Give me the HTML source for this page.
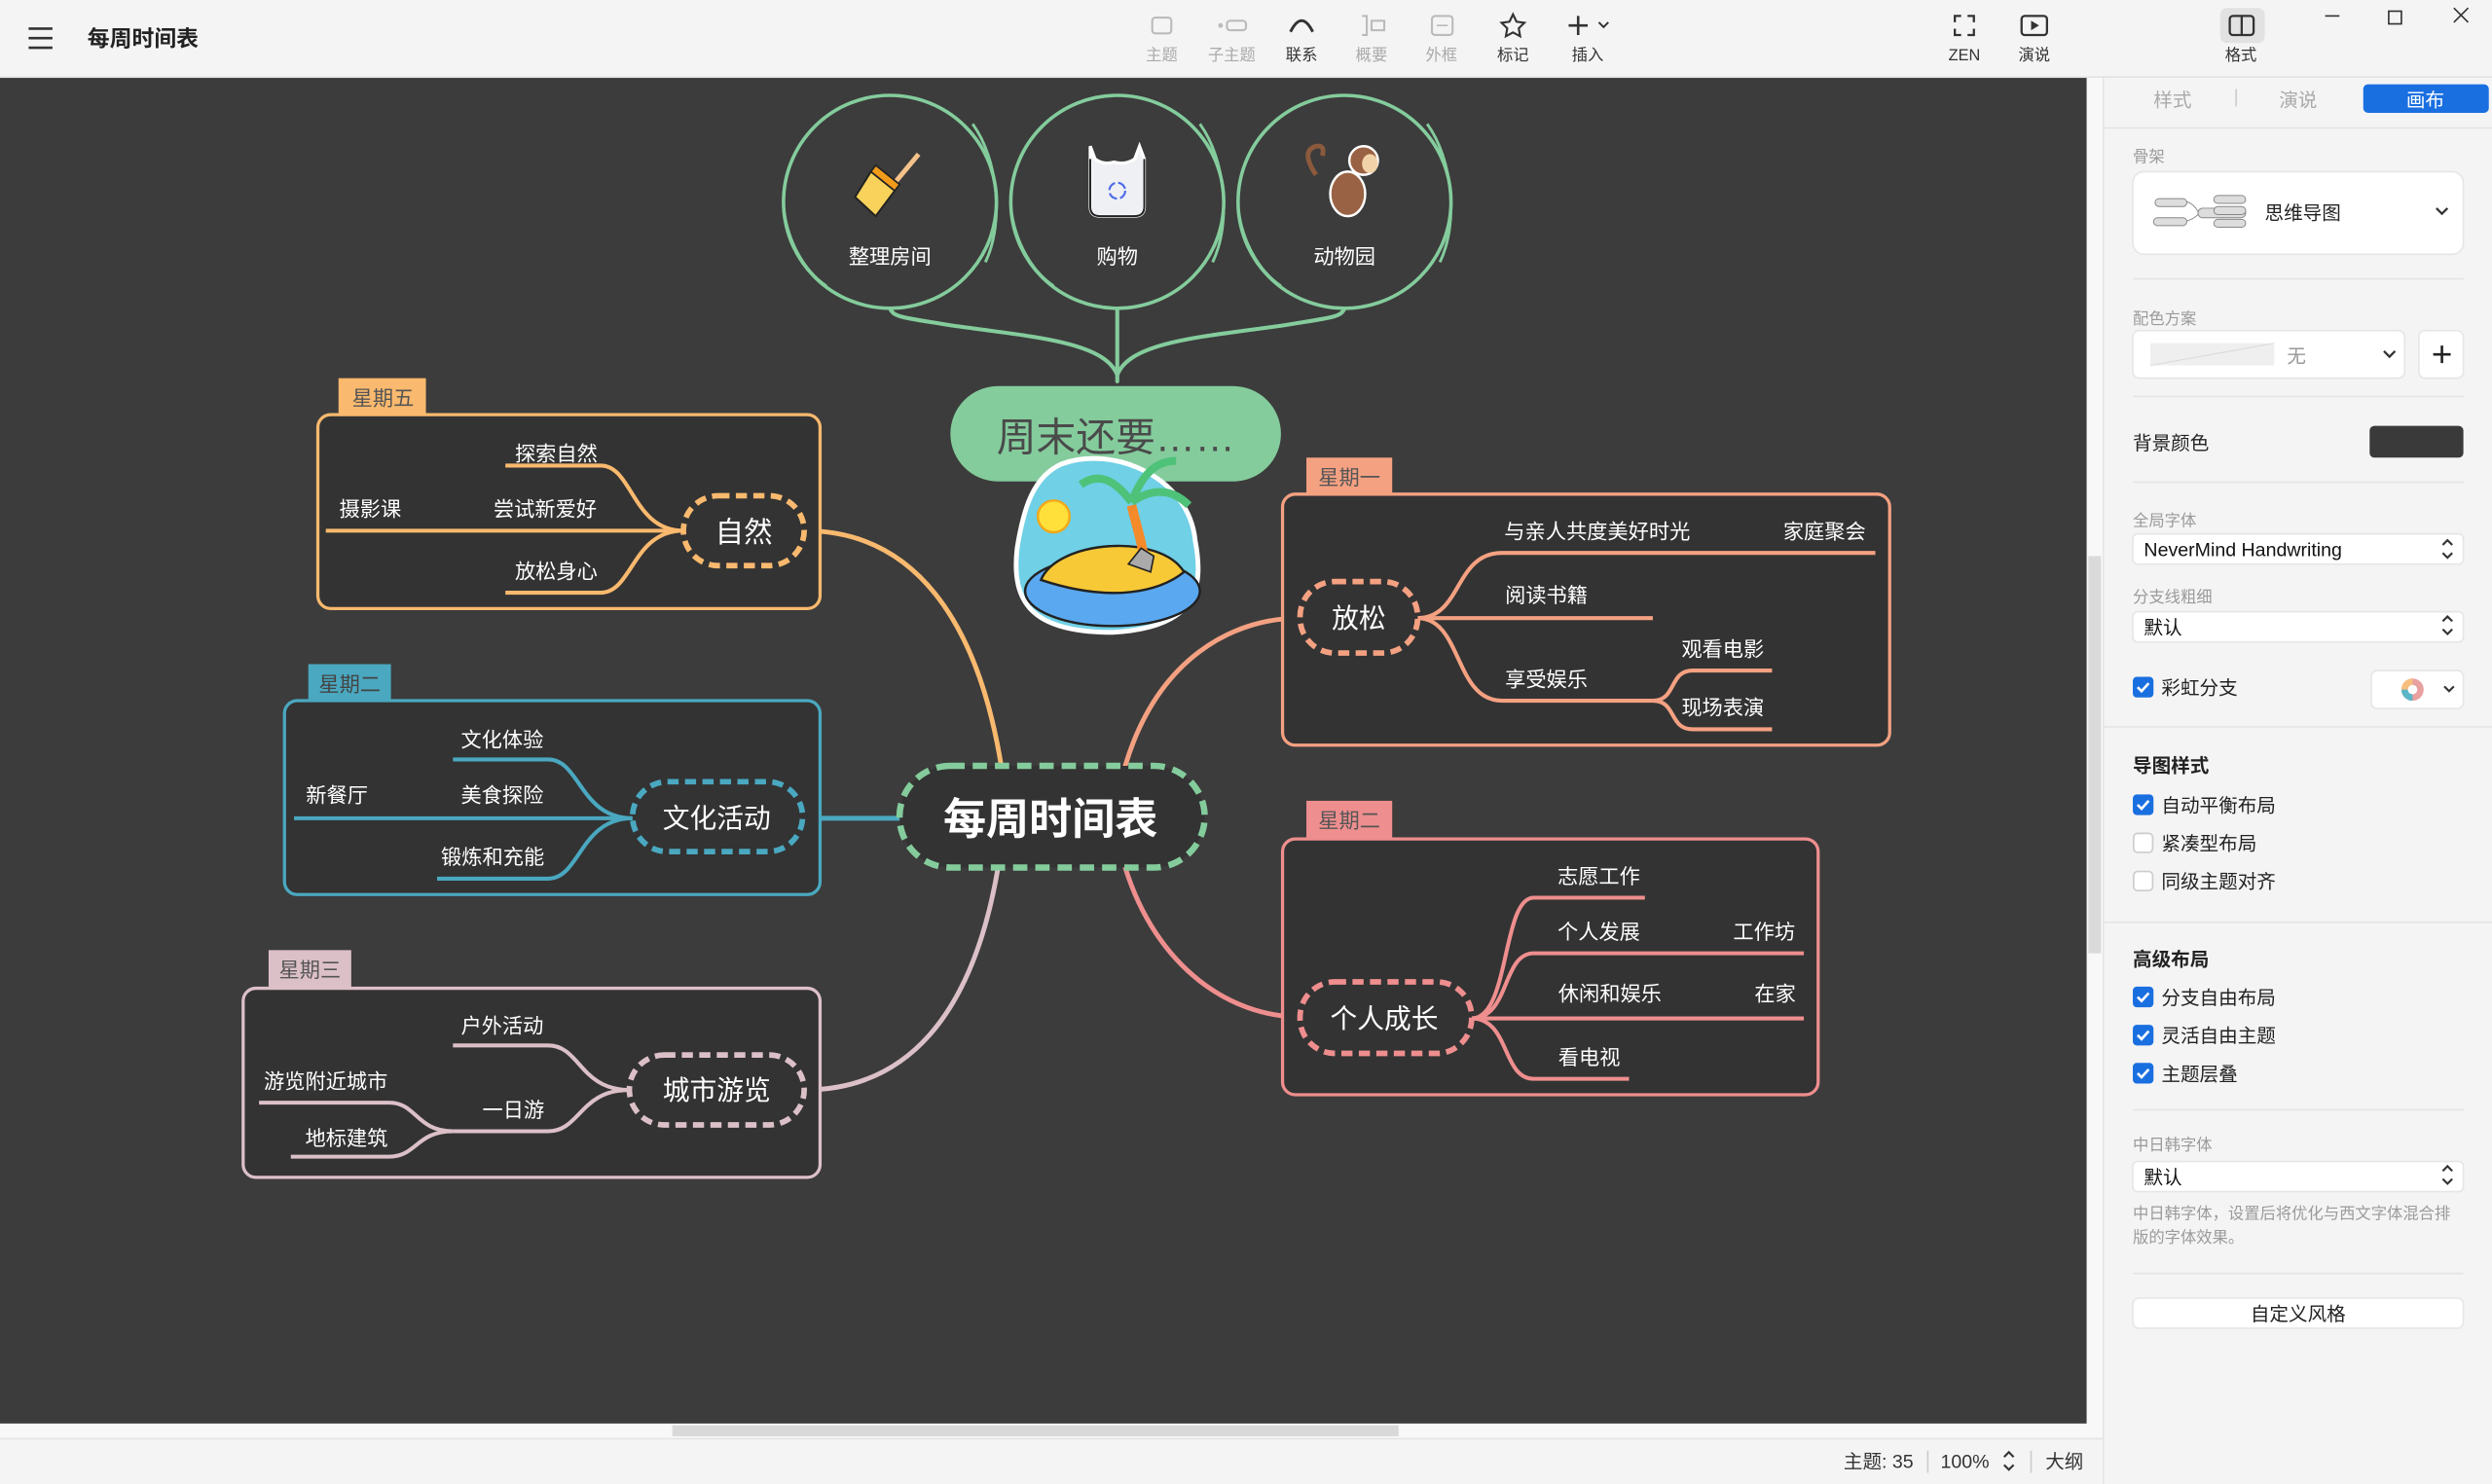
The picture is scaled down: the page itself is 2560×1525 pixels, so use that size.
<!DOCTYPE html>
<html><head><meta charset="utf-8"><style>
html,body{margin:0;padding:0;background:#f4f4f4;}
svg{display:block;}
text{font-family:"Liberation Sans","Noto Sans CJK SC",sans-serif;}
</style></head><body>
<svg width="2560" height="1525" viewBox="0 0 1568 934" xmlns="http://www.w3.org/2000/svg">
<rect x="0" y="0" width="1568" height="48" fill="#f4f4f4"/>
<line x1="0" y1="48.5" x2="1568" y2="48.5" stroke="#e2e2e2"/>
<g stroke="#333" stroke-width="1.6"><line x1="18" y1="18" x2="33" y2="18"/><line x1="18" y1="24" x2="33" y2="24"/><line x1="18" y1="30" x2="33" y2="30"/></g>
<text x="55" y="29" font-size="14" font-weight="bold" fill="#222">每周时间表</text>
<g font-size="10" text-anchor="middle">
<rect x="725" y="11" width="12" height="10" rx="2" fill="none" stroke="#bbb" stroke-width="1.3"/>
<text x="731" y="38" fill="#aaa">主题</text>
<rect x="772" y="13" width="12" height="6" rx="2" fill="none" stroke="#bbb" stroke-width="1.3"/><circle cx="768" cy="16" r="1.5" fill="#bbb"/>
<text x="775" y="38" fill="#aaa">子主题</text>
<path d="M812 20 Q819 6 826 20" fill="none" stroke="#333" stroke-width="1.8"/>
<text x="819" y="38" fill="#333">联系</text>
<path d="M857 10 h3 v12 h-3 M863 13 h8 v6 h-8z" fill="none" stroke="#bbb" stroke-width="1.3"/>
<text x="863" y="38" fill="#aaa">概要</text>
<rect x="901" y="10" width="13" height="12" rx="2" fill="none" stroke="#bbb" stroke-width="1.3"/><line x1="904" y1="16" x2="911" y2="16" stroke="#bbb"/>
<text x="907" y="38" fill="#aaa">外框</text>
<path d="M952 9 l2.2 4.6 5 .7 -3.6 3.5 .9 5 -4.5-2.4 -4.5 2.4 .9-5 -3.6-3.5 5-.7z" fill="none" stroke="#333" stroke-width="1.3"/>
<text x="952" y="38" fill="#333">标记</text>
<path d="M987 16 h12 M993 10 v12" stroke="#333" stroke-width="1.6"/><path d="M1006 14 l3 3 3-3" fill="none" stroke="#333" stroke-width="1.2"/>
<text x="999" y="38" fill="#333">插入</text>
<path d="M1230 14 v-4 h4 M1238 10 h4 v4 M1242 18 v4 h-4 M1234 22 h-4 v-4" fill="none" stroke="#333" stroke-width="1.4"/>
<text x="1236" y="38" fill="#333">ZEN</text>
<rect x="1272" y="10" width="16" height="12" rx="2" fill="none" stroke="#333" stroke-width="1.4"/><path d="M1278 13 l5 3 -5 3z" fill="#333"/>
<text x="1280" y="38" fill="#333">演说</text>
<rect x="1397" y="5" width="28" height="22" rx="4" fill="#e2e2e2"/>
<rect x="1403" y="10" width="15" height="12" rx="2" fill="none" stroke="#333" stroke-width="1.4"/><line x1="1410.5" y1="10" x2="1410.5" y2="22" stroke="#333" stroke-width="1.4"/>
<text x="1410" y="38" fill="#333">格式</text>
</g>
<g stroke="#333" stroke-width="1" fill="none"><line x1="1463" y1="10" x2="1472" y2="10"/><rect x="1503" y="7" width="8" height="8"/><path d="M1544 5 l9 9 M1553 5 l-9 9"/></g>

<rect x="0" y="49" width="1313" height="847" fill="#3c3c3c"/>
<rect x="1313" y="49" width="10" height="856" fill="#f8f8f8"/>
<rect x="1314" y="350" width="8" height="250" fill="#dadada"/>
<rect x="0" y="896" width="1313" height="9" fill="#f8f8f8"/>
<rect x="423" y="897" width="457" height="7" fill="#d9d9d9"/>
<line x1="0" y1="905.5" x2="1323" y2="905.5" stroke="#e4e4e4"/>
<line x1="1323.5" y1="49" x2="1323.5" y2="934" stroke="#e4e4e4"/>
<g font-size="12" fill="#333">
<text x="1160" y="924">主题: 35</text>
<line x1="1213" y1="913" x2="1213" y2="927" stroke="#ccc"/>
<text x="1221" y="924">100%</text>
<path d="M1261 917 l3-3 3 3 M1261 922 l3 3 3-3" fill="none" stroke="#333" stroke-width="1.3"/>
<line x1="1278" y1="913" x2="1278" y2="927" stroke="#ccc"/>
<text x="1287" y="924">大纲</text>
</g>

<rect x="1324" y="49" width="244" height="885" fill="#f4f4f4"/>
<g font-size="12" text-anchor="middle">
<text x="1367" y="67" fill="#aaa">样式</text>
<line x1="1407" y1="56" x2="1407" y2="67" stroke="#ccc"/>
<text x="1446" y="67" fill="#aaa">演说</text>
<rect x="1487" y="53" width="79" height="18" rx="3" fill="#1a6fe0"/>
<text x="1526" y="67" fill="#fff">画布</text>
</g>
<line x1="1324" y1="80.5" x2="1568" y2="80.5" stroke="#e4e4e4"/>
<g font-size="10" fill="#9a9a9a">
<text x="1342" y="102">骨架</text>
<text x="1342" y="204">配色方案</text>
<text x="1342" y="331">全局字体</text>
<text x="1342" y="379">分支线粗细</text>
<text x="1342" y="724">中日韩字体</text>
<text x="1342" y="767">中日韩字体，设置后将优化与西文字体混合排</text>
<text x="1342" y="782">版的字体效果。</text>
</g>
<rect x="1342" y="108" width="208" height="52" rx="7" fill="#fff" stroke="#e6e6e6"/>
<g fill="#ddd" stroke="#888" stroke-width="0.6"><rect x="1356" y="125" width="20" height="5" rx="2.5"/><rect x="1355" y="137" width="21" height="5" rx="2.5"/><rect x="1383" y="131" width="30" height="6" rx="3"/><rect x="1393" y="123" width="20" height="5" rx="2.5"/><rect x="1393" y="130" width="20" height="5" rx="2.5"/><rect x="1393" y="138" width="20" height="5" rx="2.5"/></g>
<path d="M1376 127 Q1380 128 1383 133 M1376 139 Q1380 138 1383 135" fill="none" stroke="#888" stroke-width="0.6"/>
<text x="1425" y="138" font-size="12" fill="#222">思维导图</text>
<path d="M1533 131 l3.5 3.5 3.5-3.5" fill="none" stroke="#333" stroke-width="1.4"/>
<line x1="1342" y1="175.5" x2="1550" y2="175.5" stroke="#e4e4e4"/>
<rect x="1342" y="208" width="171" height="30" rx="4" fill="#fff" stroke="#e6e6e6"/>
<rect x="1353" y="216" width="78" height="14" fill="#efefef"/><line x1="1353" y1="230" x2="1431" y2="216" stroke="#d8d8d8" stroke-width="0.6"/>
<text x="1439" y="228" font-size="12" fill="#999">无</text>
<path d="M1500 221 l3.5 3.5 3.5-3.5" fill="none" stroke="#333" stroke-width="1.4"/>
<rect x="1522" y="208" width="28" height="30" rx="4" fill="#fff" stroke="#e6e6e6"/>
<path d="M1531 223 h11 M1536.5 217.5 v11" stroke="#222" stroke-width="1.6"/>
<line x1="1342" y1="249.5" x2="1550" y2="249.5" stroke="#e4e4e4"/>
<text x="1342" y="283" font-size="12" fill="#222">背景颜色</text>
<rect x="1491" y="268" width="59" height="20" rx="3" fill="#3a3a3a"/>
<line x1="1342" y1="303.5" x2="1550" y2="303.5" stroke="#e4e4e4"/>
<rect x="1342" y="336" width="208" height="19" rx="3" fill="#fff" stroke="#e6e6e6"/>
<text x="1349" y="350" font-size="12" fill="#111">NeverMind Handwriting</text>
<path d="M1537 343 l3-3 3 3 M1537 348 l3 3 3-3" fill="none" stroke="#333" stroke-width="1.3"/>
<rect x="1342" y="385" width="208" height="19" rx="3" fill="#fff" stroke="#e6e6e6"/>
<text x="1349" y="399" font-size="12" fill="#111">默认</text>
<path d="M1537 391 l3-3 3 3 M1537 396 l3 3 3-3" fill="none" stroke="#333" stroke-width="1.3"/>
<rect x="1342" y="426" width="13" height="13" rx="2.5" fill="#1a6fe0"/><path d="M1345 432.5 l2.5 2.5 4.5-5" fill="none" stroke="#fff" stroke-width="1.6"/>
<text x="1360" y="437" font-size="12" fill="#222">彩虹分支</text>
<rect x="1492" y="422" width="58" height="24" rx="4" fill="#fff" stroke="#e6e6e6"/>
<circle cx="1518" cy="434" r="5" fill="none" stroke="#e9a0a0" stroke-width="4"/>
<path d="M1513 434 a5 5 0 0 0 5 5" fill="none" stroke="#5bb6c8" stroke-width="4"/>
<path d="M1518 429 a5 5 0 0 0 -5 5" fill="none" stroke="#f7bf7e" stroke-width="4"/>
<path d="M1538 432 l3 3 3-3" fill="none" stroke="#333" stroke-width="1.3"/>
<line x1="1324" y1="457.5" x2="1568" y2="457.5" stroke="#e4e4e4"/>
<text x="1342" y="486" font-size="12" font-weight="bold" fill="#222">导图样式</text>
<text x="1342" y="608" font-size="12" font-weight="bold" fill="#222">高级布局</text>
<g font-size="12" fill="#222">
<rect x="1342" y="500" width="13" height="13" rx="2.5" fill="#1a6fe0"/><path d="M1345 506.5 l2.5 2.5 4.5-5" fill="none" stroke="#fff" stroke-width="1.6"/><text x="1360" y="511">自动平衡布局</text>
<rect x="1342.5" y="524.5" width="12" height="12" rx="2.5" fill="#fff" stroke="#ccc"/><text x="1360" y="535">紧凑型布局</text>
<rect x="1342.5" y="548.5" width="12" height="12" rx="2.5" fill="#fff" stroke="#ccc"/><text x="1360" y="559">同级主题对齐</text>
<rect x="1342" y="621" width="13" height="13" rx="2.5" fill="#1a6fe0"/><path d="M1345 627.5 l2.5 2.5 4.5-5" fill="none" stroke="#fff" stroke-width="1.6"/><text x="1360" y="632">分支自由布局</text>
<rect x="1342" y="645" width="13" height="13" rx="2.5" fill="#1a6fe0"/><path d="M1345 651.5 l2.5 2.5 4.5-5" fill="none" stroke="#fff" stroke-width="1.6"/><text x="1360" y="656">灵活自由主题</text>
<rect x="1342" y="669" width="13" height="13" rx="2.5" fill="#1a6fe0"/><path d="M1345 675.5 l2.5 2.5 4.5-5" fill="none" stroke="#fff" stroke-width="1.6"/><text x="1360" y="680">主题层叠</text>
</g>
<line x1="1324" y1="580.5" x2="1568" y2="580.5" stroke="#e4e4e4"/>
<line x1="1342" y1="698.5" x2="1550" y2="698.5" stroke="#e4e4e4"/>
<rect x="1342" y="731" width="208" height="19" rx="3" fill="#fff" stroke="#e6e6e6"/>
<text x="1349" y="745" font-size="12" fill="#111">默认</text>
<path d="M1537 737 l3-3 3 3 M1537 742 l3 3 3-3" fill="none" stroke="#333" stroke-width="1.3"/>
<line x1="1342" y1="801.5" x2="1550" y2="801.5" stroke="#e4e4e4"/>
<rect x="1342" y="817" width="208" height="19" rx="4" fill="#fff" stroke="#e6e6e6"/>
<text x="1446" y="831" font-size="12" fill="#222" text-anchor="middle">自定义风格</text>

<g fill="none" stroke-linecap="round">
<path d="M630 482 C615 390 575 334 506 334" stroke="#f9b96e" stroke-width="3"/>
<path d="M566 515 L506 515" stroke="#4aa8c0" stroke-width="3"/>
<path d="M628 546 C612 640 570 686 506 686" stroke="#dcc0c8" stroke-width="3"/>
<path d="M708 482 C728 415 775 389 818 389" stroke="#f4a182" stroke-width="3"/>
<path d="M708 546 C728 610 775 640 818 640" stroke="#ef8e8e" stroke-width="3"/>
<path d="M703 240 L703 195" stroke="#84cc9c" stroke-width="2.5"/>
<path d="M703 236 C695 215 650 212 600 205 C570 200 562 200 560 194" stroke="#84cc9c" stroke-width="2.5"/>
<path d="M703 236 C711 215 756 212 806 205 C836 200 844 200 846 194" stroke="#84cc9c" stroke-width="2.5"/>
</g>
<g fill="#3c3c3c" stroke="#84cc9c" stroke-width="2.2">
<ellipse cx="560" cy="127" rx="67" ry="67"/>
<ellipse cx="703" cy="127" rx="67" ry="67"/>
<ellipse cx="846" cy="127" rx="67" ry="67"/>
</g>
<g fill="none" stroke="#84cc9c" stroke-width="1.8">
<path d="M612 78 C628 100 632 140 620 165"/><path d="M493 130 C495 150 505 170 520 180"/>
<path d="M755 78 C771 100 775 140 763 165"/><path d="M636 130 C638 150 648 170 663 180"/>
<path d="M898 78 C914 100 918 140 906 165"/><path d="M779 130 C781 150 791 170 806 180"/>
</g>
<g font-size="13" fill="#fff" text-anchor="middle">
<text x="560" y="166">整理房间</text><text x="703" y="166">购物</text><text x="846" y="166">动物园</text>
</g>
<g stroke="#fff" stroke-width="1">
<line x1="563" y1="115" x2="578" y2="97" stroke="#f4c28a" stroke-width="3"/>
<path d="M548 108 l15 12 -12 16 -13-12z" fill="#f8d25a" stroke="#222" stroke-width="1.2"/>
<path d="M548 108 l15 12 3-4 -15-12z" fill="#f29b1a" stroke="#222" stroke-width="1"/>
</g>
<path d="M686 100 v30 q0 6 6 6 h22 q6 0 6-6 v-30 l-3 -8 -3 8 q-6 4-13 2 q-7 2-12-2 l-3-8z" fill="#eef0f4" stroke="#fff" stroke-width="2"/>
<path d="M686 100 v30 q0 6 6 6 h22 q6 0 6-6 v-30" fill="none" stroke="#222" stroke-width="1.2"/>
<circle cx="703" cy="120" r="5" fill="none" stroke="#4d6be8" stroke-width="1.3" stroke-dasharray="6 2"/>
<g>
<path d="M828 110 q-10-15 0-18 q6-1 4 6" fill="none" stroke="#8b5a3c" stroke-width="3"/>
<ellipse cx="848" cy="122" rx="11" ry="14" fill="#9a6244" stroke="#fff" stroke-width="1.5"/>
<circle cx="858" cy="101" r="9" fill="#9a6244" stroke="#fff" stroke-width="1.5"/>
<ellipse cx="862" cy="103" rx="5" ry="6" fill="#f2d2a8"/>
</g>
<rect x="598" y="243" width="208" height="60" rx="30" fill="#84cc9c"/>
<text x="702" y="284" font-size="25" fill="#4a4a4a" text-anchor="middle">周末还要……</text>
<g>
<path d="M668 292 C700 280 748 300 752 340 C758 372 752 395 700 398 C650 398 636 380 640 345 C644 320 650 300 668 292z" fill="#6fd0e6" stroke="#fff" stroke-width="3"/>
<ellipse cx="700" cy="372" rx="55" ry="22" fill="#5aa8f0" stroke="#222" stroke-width="1.5"/>
<path d="M655 365 C665 340 730 335 745 360 C730 372 700 380 655 365z" fill="#f8c936" stroke="#222" stroke-width="1.5"/>
<path d="M712 318 C716 335 720 345 720 358" stroke="#f48a2a" stroke-width="6" fill="none"/>
<path d="M712 316 C700 300 690 298 680 305 M712 316 C720 295 730 290 740 290 M712 316 C728 305 740 310 748 318" stroke="#4fc27a" stroke-width="5" fill="none"/>
<circle cx="663" cy="325" r="10" fill="#ffe03a" stroke="#f2a81a" stroke-width="1.5"/>
<path d="M710 355 l8-10 8 5 -2 10z" fill="#aaa" stroke="#222"/>
</g>
<rect x="566" y="482" width="192" height="64" rx="32" fill="#333" stroke="#84cc9c" stroke-width="4" stroke-dasharray="9 5"/>
<text x="661" y="525" font-size="27" font-weight="bold" fill="#fff" text-anchor="middle">每周时间表</text>

<rect x="213" y="238" width="55" height="24" fill="#f9b96e"/>
<text x="241" y="255" font-size="13" fill="#555" text-anchor="middle">星期五</text>
<rect x="200" y="261" width="316" height="122" rx="8" fill="#333" stroke="#f9b96e" stroke-width="2"/>
<g fill="none" stroke="#f9b96e" stroke-width="2.5">
<path d="M318 293 H378 C398 293 398 334 430 334"/>
<path d="M205 334 H430"/>
<path d="M318 373 H378 C398 373 398 334 430 334"/>
</g>
<rect x="430" y="312" width="76" height="44" rx="22" fill="#333" stroke="#f9b96e" stroke-width="3.5" stroke-dasharray="7 4"/>
<text x="468" y="341" font-size="18" fill="#fff" text-anchor="middle">自然</text>
<g font-size="13" fill="#fff" text-anchor="middle">
<text x="350" y="290">探索自然</text><text x="343" y="325">尝试新爱好</text><text x="233" y="325">摄影课</text><text x="350" y="364">放松身心</text>
</g>
<rect x="194" y="418" width="52" height="24" fill="#4aa8c0"/>
<text x="220" y="435" font-size="13" fill="#444" text-anchor="middle">星期二</text>
<rect x="179" y="441" width="337" height="122" rx="8" fill="#333" stroke="#4aa8c0" stroke-width="2"/>
<g fill="none" stroke="#4aa8c0" stroke-width="2.5">
<path d="M285 478 H345 C365 478 365 515 398 515"/>
<path d="M185 515 H398"/>
<path d="M275 553 H345 C365 553 365 515 398 515"/>
</g>
<rect x="398" y="492" width="107" height="44" rx="22" fill="#333" stroke="#4aa8c0" stroke-width="3.5" stroke-dasharray="7 4"/>
<text x="451" y="521" font-size="17" fill="#fff" text-anchor="middle">文化活动</text>
<g font-size="13" fill="#fff" text-anchor="middle">
<text x="316" y="470">文化体验</text><text x="316" y="505">美食探险</text><text x="212" y="505">新餐厅</text><text x="310" y="544">锻炼和充能</text>
</g>
<rect x="169" y="598" width="52" height="25" fill="#dcc0c8"/>
<text x="195" y="615" font-size="13" fill="#555" text-anchor="middle">星期三</text>
<rect x="153" y="622" width="363" height="119" rx="8" fill="#333" stroke="#dcc0c8" stroke-width="2"/>
<g fill="none" stroke="#dcc0c8" stroke-width="2.5">
<path d="M285 658 H345 C365 658 365 686 396 686"/>
<path d="M285 712 H345 C365 712 365 686 396 686"/>
<path d="M163 694 H245 C262 694 262 712 285 712"/>
<path d="M183 728 H245 C262 728 262 712 285 712"/>
</g>
<rect x="396" y="664" width="110" height="44" rx="22" fill="#333" stroke="#dcc0c8" stroke-width="3.5" stroke-dasharray="7 4"/>
<text x="451" y="692" font-size="17" fill="#fff" text-anchor="middle">城市游览</text>
<g font-size="13" fill="#fff" text-anchor="middle">
<text x="316" y="650">户外活动</text><text x="323" y="703">一日游</text><text x="205" y="685">游览附近城市</text><text x="218" y="721">地标建筑</text>
</g>
<rect x="822" y="288" width="54" height="24" fill="#f4a182"/>
<text x="849" y="305" font-size="13" fill="#555" text-anchor="middle">星期一</text>
<rect x="807" y="311" width="382" height="158" rx="8" fill="#333" stroke="#f4a182" stroke-width="2"/>
<g fill="none" stroke="#f4a182" stroke-width="2.5">
<path d="M892 389 C920 389 915 348 945 348 H1180"/>
<path d="M892 389 H1040"/>
<path d="M892 389 C920 389 915 441 945 441 H1040"/>
<path d="M1040 441 C1055 441 1050 422 1065 422 H1115"/>
<path d="M1040 441 C1055 441 1050 459 1065 459 H1115"/>
</g>
<rect x="818" y="366" width="74" height="45" rx="22" fill="#333" stroke="#f4a182" stroke-width="3.5" stroke-dasharray="7 4"/>
<text x="855" y="395" font-size="17" fill="#fff" text-anchor="middle">放松</text>
<g font-size="13" fill="#fff" text-anchor="middle">
<text x="1005" y="339">与亲人共度美好时光</text><text x="1148" y="339">家庭聚会</text><text x="973" y="379">阅读书籍</text><text x="973" y="432">享受娱乐</text><text x="1084" y="413">观看电影</text><text x="1084" y="450">现场表演</text>
</g>
<rect x="822" y="504" width="54" height="25" fill="#ef8e8e"/>
<text x="849" y="521" font-size="13" fill="#555" text-anchor="middle">星期二</text>
<rect x="807" y="528" width="337" height="161" rx="8" fill="#333" stroke="#ef8e8e" stroke-width="2"/>
<g fill="none" stroke="#ef8e8e" stroke-width="2.5">
<path d="M926 641 C950 641 945 565 965 565 H1035"/>
<path d="M926 641 C950 641 945 600 965 600 H1135"/>
<path d="M926 641 H1135"/>
<path d="M926 641 C950 641 945 679 965 679 H1025"/>
</g>
<rect x="818" y="618" width="108" height="45" rx="22" fill="#333" stroke="#ef8e8e" stroke-width="3.5" stroke-dasharray="7 4"/>
<text x="871" y="647" font-size="17" fill="#fff" text-anchor="middle">个人成长</text>
<g font-size="13" fill="#fff" text-anchor="middle">
<text x="1006" y="556">志愿工作</text><text x="1006" y="591">个人发展</text><text x="1110" y="591">工作坊</text><text x="1013" y="630">休闲和娱乐</text><text x="1117" y="630">在家</text><text x="1000" y="670">看电视</text>
</g>
</svg>
</body></html>
